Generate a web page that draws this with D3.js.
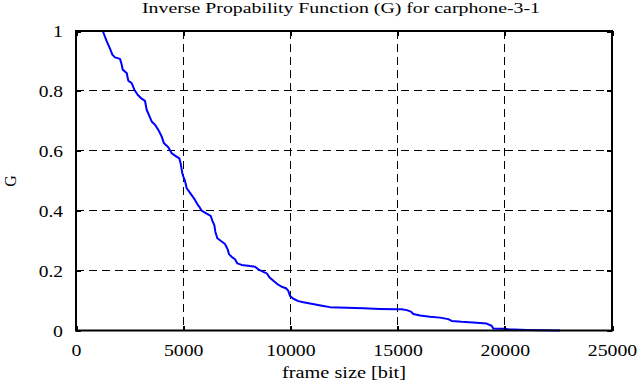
<!DOCTYPE html>
<html><head><meta charset="utf-8">
<script src="https://cdn.jsdelivr.net/npm/d3@7/dist/d3.min.js"></script>
<style>html,body{margin:0;padding:0;background:#fff;}svg{display:block;}</style>
</head><body><svg id="c" width="639" height="387"></svg>
<script>
const titleText = "Inverse Propability Function (G) for carphone-3-1";
const xLabel = "frame size [bit]";
const yLabel = "G";
const xTicks = [0, 5000, 10000, 15000, 20000, 25000];
const yTicks = [0, 0.2, 0.4, 0.6, 0.8, 1];
const yTickLabels = ["0", "0.2", "0.4", "0.6", "0.8", "1"];
const frameSize = [1250,1430,1586,1694,1819,2052,2130,2177,2364,2441,2597,2721,2876,3063,3218,3296,3405,3529,3685,3840,3996,4104,4306,4462,4617,4819,4881,4959,5006,5084,5162,5286,5395,5550,5659,5752,5861,6094,6281,6359,6452,6499,6592,6794,6950,7074,7136,7260,7416,7525,7727,8116,8349,8505,8738,8894,9019,9205,9392,9594,9796,9904,9983,10139,10372,10605,10916,11227,11538,11847,12625,13400,14179,14956,15190,15424,15624,15733,16045,16511,16977,17364,17520,17986,18685,19152,19385,19463,19929,20162,21019,22575];
const gValue = [1.0,0.966,0.941,0.921,0.912,0.907,0.888,0.871,0.860,0.834,0.826,0.804,0.787,0.774,0.767,0.737,0.719,0.698,0.687,0.670,0.648,0.625,0.612,0.592,0.584,0.575,0.558,0.525,0.514,0.500,0.475,0.463,0.452,0.436,0.422,0.413,0.400,0.390,0.383,0.367,0.352,0.330,0.308,0.297,0.289,0.271,0.255,0.246,0.238,0.224,0.219,0.215,0.213,0.204,0.196,0.191,0.178,0.166,0.155,0.146,0.141,0.132,0.115,0.106,0.098,0.094,0.090,0.086,0.082,0.078,0.076,0.074,0.072,0.071,0.071,0.068,0.063,0.055,0.050,0.046,0.043,0.038,0.032,0.029,0.026,0.023,0.016,0.007,0.006,0.004,0.002,0.0];

const L = 76, R = 612, T = 31, B = 330.5;
const font = "'Liberation Serif', 'Times New Roman', serif";
const svg = d3.select("#c");
const x = d3.scaleLinear().domain([0, 25000]).range([L, R]);
const y = d3.scaleLinear().domain([0, 1]).range([B, T]);

// grid
const g = svg.append("g").attr("stroke", "#000").attr("stroke-width", 1)
  .attr("stroke-dasharray", "8,5").attr("shape-rendering", "crispEdges");
g.selectAll("line.vx").data(xTicks.filter(v => v > 0 && v < 25000)).join("line")
  .attr("x1", d => x(d)).attr("x2", d => x(d)).attr("y1", T).attr("y2", B);
g.selectAll("line.hy").data(yTicks.filter(v => v > 0 && v < 1)).join("line")
  .attr("y1", d => y(d)).attr("y2", d => y(d)).attr("x1", L).attr("x2", R);

// data line
const pts = frameSize.map((f, i) => [f, gValue[i]]);
svg.append("path").datum(pts)
  .attr("fill", "none").attr("stroke", "#0000ff").attr("stroke-width", 2)
  .attr("stroke-linejoin", "round")
  .attr("d", d3.line().x(d => x(d[0])).y(d => y(d[1])));

// axes
function styleAxis(sel) {
  sel.select(".domain").remove();
  sel.selectAll(".tick line").attr("stroke", "#000").attr("stroke-width", 2).attr("shape-rendering", "crispEdges");
  sel.selectAll("text").attr("font-family", font).attr("font-size", "17.5px").attr("fill", "#000");
}
const xb = svg.append("g").attr("transform", `translate(0,${B})`)
  .call(d3.axisBottom(x).tickValues(xTicks).tickFormat(d3.format("d")).tickSize(-5).tickSizeOuter(0).tickPadding(13));
styleAxis(xb);
xb.selectAll("text").attr("textLength", d => String(d).length * 9.9).attr("lengthAdjust", "spacingAndGlyphs");
const xt = svg.append("g").attr("transform", `translate(0,${T})`)
  .call(d3.axisTop(x).tickValues(xTicks).tickSize(-5).tickSizeOuter(0).tickFormat(""));
styleAxis(xt);
const yl = svg.append("g").attr("transform", `translate(${L},0)`)
  .call(d3.axisLeft(y).tickValues(yTicks).tickFormat((d, i) => yTickLabels[i]).tickSize(-5).tickSizeOuter(0).tickPadding(13));
styleAxis(yl);
yl.selectAll("text").attr("textLength", (d, i) => {
  const s = yTickLabels[i];
  return s.replace(/\./g, "").length * 9.9 + (s.includes(".") ? 4.5 : 0);
}).attr("lengthAdjust", "spacingAndGlyphs");
const yr = svg.append("g").attr("transform", `translate(${R},0)`)
  .call(d3.axisRight(y).tickValues(yTicks).tickSize(-5).tickSizeOuter(0).tickFormat(""));
styleAxis(yr);

// frame
svg.append("rect").attr("x", L).attr("y", T).attr("width", R - L).attr("height", B - T)
  .attr("fill", "none").attr("stroke", "#000").attr("stroke-width", 2);

// title and labels
svg.append("text").attr("x", 142).attr("y", 13).attr("font-family", font).attr("font-size", "14px")
  .attr("textLength", 398).attr("lengthAdjust", "spacingAndGlyphs").text(titleText);
svg.append("text").attr("x", 344).attr("y", 378).attr("text-anchor", "middle").attr("font-family", font)
  .attr("font-size", "17px").attr("textLength", 124).attr("lengthAdjust", "spacingAndGlyphs").text(xLabel);
svg.append("text").attr("transform", "translate(16,181) rotate(-90)").attr("text-anchor", "middle")
  .attr("font-family", font).attr("font-size", "16px").text(yLabel);
</script></body></html>
